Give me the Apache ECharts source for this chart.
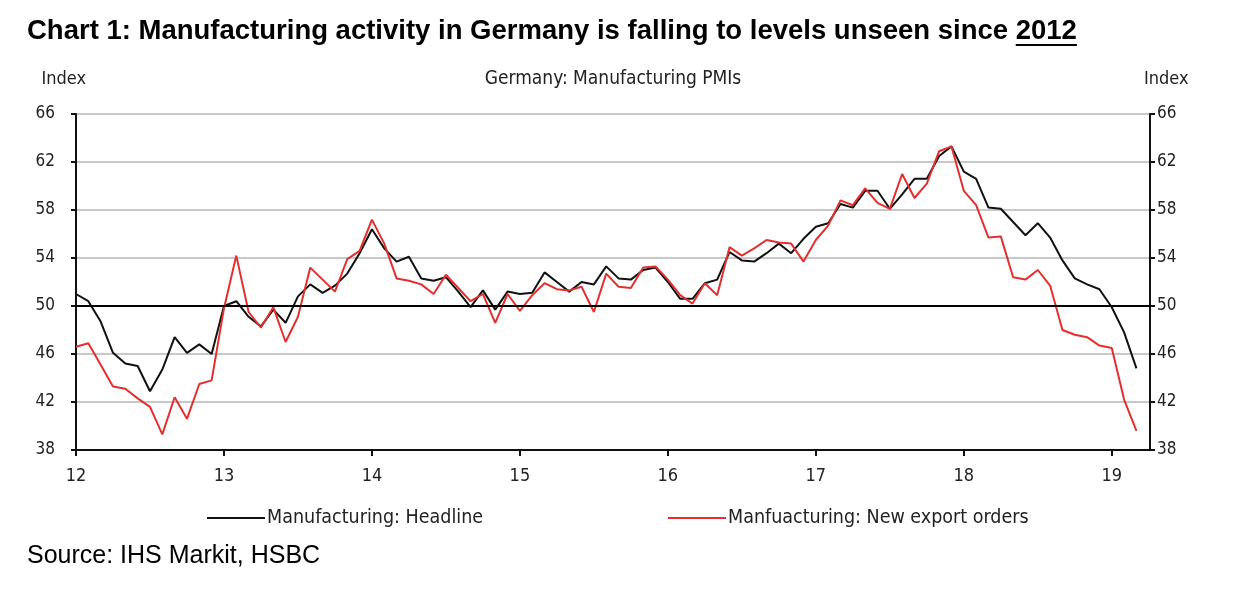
<!DOCTYPE html>
<html>
<head>
<meta charset="utf-8">
<script src="https://cdn.jsdelivr.net/npm/echarts@6/dist/echarts.min.js"></script>
<style>
html,body{margin:0;padding:0;background:#fff;}
#chart{width:1257px;height:589px;}
</style>
</head>
<body>
<div id="chart"></div>
<script>
// Monthly data, Jan 2012 .. Mar 2019
var startYear = 2012;
var headline = [
  51.0, 50.4, 48.7, 46.1, 45.2, 45.0, 42.9, 44.7, 47.4, 46.1, 46.8, 46.0,
  50.0, 50.4, 49.1, 48.3, 49.7, 48.6, 50.8, 51.8, 51.1, 51.7, 52.7, 54.4,
  56.4, 54.8, 53.7, 54.1, 52.3, 52.1, 52.4, 51.2, 49.9, 51.3, 49.7, 51.2,
  51.0, 51.1, 52.8, 52.0, 51.2, 52.0, 51.8, 53.3, 52.3, 52.2, 53.0, 53.2,
  52.0, 50.6, 50.6, 51.9, 52.2, 54.5, 53.8, 53.7, 54.4, 55.2, 54.4, 55.6,
  56.6, 56.9, 58.5, 58.2, 59.6, 59.6, 58.1, 59.3, 60.6, 60.6, 62.5, 63.3,
  61.2, 60.6, 58.2, 58.1, 57.0, 55.9, 56.9, 55.7, 53.8, 52.3, 51.8, 51.4,
  49.9, 47.8, 44.8
];
var exportOrders = [
  46.6, 46.9, 45.1, 43.3, 43.1, 42.3, 41.6, 39.3, 42.4, 40.6, 43.5, 43.8,
  49.8, 54.2, 49.5, 48.2, 49.9, 47.0, 49.1, 53.2, 52.2, 51.2, 53.9, 54.6,
  57.2, 55.2, 52.3, 52.1, 51.8, 51.0, 52.6, 51.5, 50.4, 51.0, 48.6, 51.0,
  49.6, 50.9, 51.9, 51.4, 51.3, 51.6, 49.5, 52.7, 51.6, 51.5, 53.2, 53.3,
  52.2, 50.9, 50.2, 51.9, 50.9, 54.9, 54.2, 54.8, 55.5, 55.3, 55.2, 53.7,
  55.5, 56.7, 58.8, 58.4, 59.8, 58.6, 58.1, 61.0, 59.0, 60.2, 62.9, 63.3,
  59.6, 58.4, 55.7, 55.8, 52.4, 52.2, 53.0, 51.7, 48.0, 47.6, 47.4, 46.7,
  46.5, 42.2, 39.6
];
var xTickLabels = ['12', '13', '14', '15', '16', '17', '18', '19'];
var yTickLabels = ['38', '42', '46', '50', '54', '58', '62', '66'];
var seriesNames = ['Manufacturing: Headline', 'Manfuacturing: New export orders'];
var titleText = 'Chart 1: Manufacturing activity in Germany is falling to levels unseen since ';
var titleYear = '2012';

function pairs(arr) {
  return arr.map(function (v, i) { return [i, v]; });
}

var sans = '"Liberation Sans", Arial, sans-serif';
var titleSize = 27.5;
var ctx = document.createElement('canvas').getContext('2d');
ctx.font = 'bold ' + titleSize + 'px ' + sans;
var preW = ctx.measureText(titleText).width;
var yearW = ctx.measureText(titleYear).width;
var titleLeft = 27;

var chart = echarts.init(document.getElementById('chart'));
var narrow = '"Liberation Sans Narrow", "Arial Narrow", "DejaVu Sans Condensed", sans-serif';
var yAxisCommon = {
  type: 'value', min: 38, max: 66, interval: 4,
  axisLine: { show: true, lineStyle: { color: '#111', width: 2 } },
  axisTick: { show: true, length: 5, lineStyle: { color: '#111', width: 2 } },
  name: 'Index', nameLocation: 'end', nameGap: 26,
  nameTextStyle: { color: '#222', fontSize: 18, fontFamily: narrow }
};
function yLabel(margin) {
  return { color: '#222', fontSize: 17, fontFamily: narrow, margin: margin,
    formatter: function (v) { var i = Math.round((v - 38) / 4); return yTickLabels[i]; } };
}
chart.setOption({
  animation: false,
  title: [
    { text: titleText + titleYear, left: titleLeft, top: 17, padding: 0,
      textStyle: { fontSize: titleSize, fontWeight: 'bold', color: '#000', fontFamily: sans } },
    { text: 'Germany: Manufacturing PMIs', left: 613, top: 70, padding: 0, textAlign: 'center',
      textStyle: { fontSize: 19, fontWeight: 'normal', color: '#222', fontFamily: narrow } },
    { text: 'Source: IHS Markit, HSBC', left: 27, top: 544, padding: 0,
      textStyle: { fontSize: 25, fontWeight: 'normal', color: '#000', fontFamily: sans } }
  ],
  graphic: [
    { type: 'rect', shape: { x: titleLeft + preW, y: 44, width: yearW, height: 2 },
      style: { fill: '#000' } }
  ],
  grid: { left: 76, right: 107, top: 114, bottom: 139 },
  legend: [
    { data: [seriesNames[0]], left: 202, top: 503, icon: 'rect', itemWidth: 58, itemHeight: 2, itemGap: 5,
      textStyle: { color: '#222', fontSize: 19.5, fontFamily: narrow, padding: [0, 0, 0, -3] } },
    { data: [seriesNames[1]], left: 663, top: 503, icon: 'rect', itemWidth: 58, itemHeight: 2, itemGap: 5,
      textStyle: { color: '#222', fontSize: 19.5, fontFamily: narrow, padding: [0, 0, 0, -3] } }
  ],
  xAxis: {
    type: 'value', min: 0, max: 87.1, interval: 12,
    axisLine: { show: true, onZero: false, lineStyle: { color: '#111', width: 2 } },
    axisTick: { show: true, length: 6, lineStyle: { color: '#111', width: 2 } },
    splitLine: { show: false },
    axisLabel: { color: '#222', fontSize: 18, fontFamily: narrow, margin: 17, showMaxLabel: false,
      formatter: function (v) { var i = Math.round(v / 12); return xTickLabels[i] || ''; } }
  },
  yAxis: [
    Object.assign({}, yAxisCommon, { position: 'left', axisLabel: yLabel(21),
      splitLine: { show: true, lineStyle: { color: '#c8c8c8', width: 2 } },
      nameTextStyle: Object.assign({}, yAxisCommon.nameTextStyle, { align: 'right', padding: [0, -10, 0, 0] }) }),
    Object.assign({}, yAxisCommon, { position: 'right', axisLabel: yLabel(7), splitLine: { show: false },
      nameTextStyle: Object.assign({}, yAxisCommon.nameTextStyle, { align: 'left', padding: [0, 0, 0, -6] }) })
  ],
  series: [
    { name: seriesNames[0], type: 'line', data: pairs(headline), symbol: 'none',
      lineStyle: { color: '#111', width: 2 }, itemStyle: { color: '#111' }, z: 3,
      markLine: { silent: true, symbol: 'none', label: { show: false },
        lineStyle: { color: '#000', width: 2, type: 'solid' }, data: [{ yAxis: 50 }] } },
    { name: seriesNames[1], type: 'line', data: pairs(exportOrders), symbol: 'none',
      lineStyle: { color: '#e3302f', width: 2 }, itemStyle: { color: '#e3302f' }, z: 4 }
  ]
});
</script>
</body>
</html>
